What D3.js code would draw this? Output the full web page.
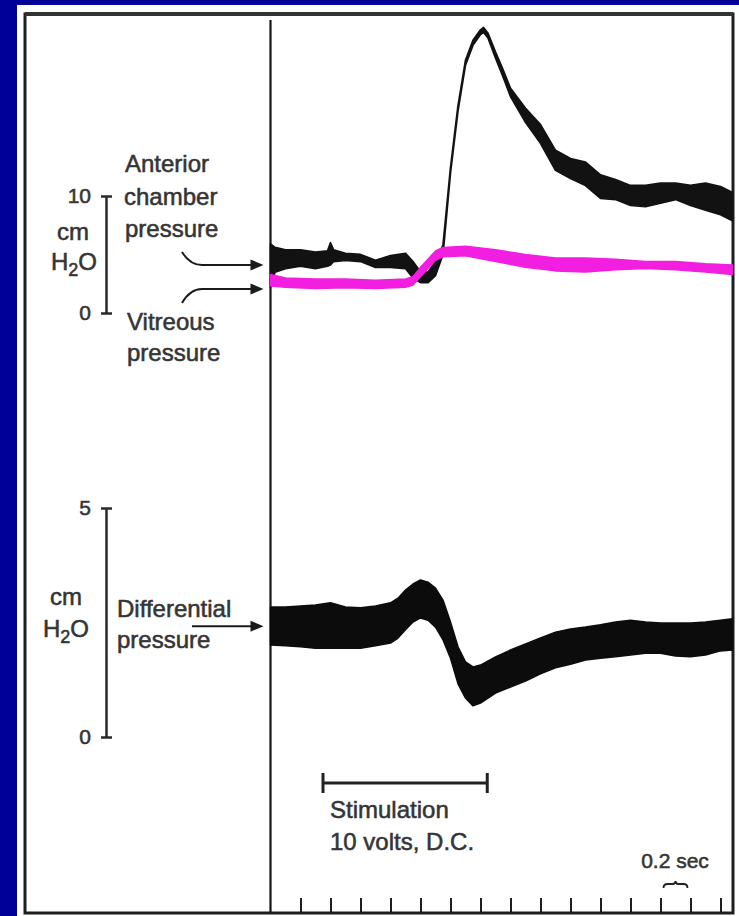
<!DOCTYPE html>
<html><head><meta charset="utf-8">
<script src="https://cdn.jsdelivr.net/npm/d3@7"></script>
<style>
html,body{margin:0;padding:0;background:#000099;overflow:hidden;}
svg{display:block;}
text{font-family:"Liberation Sans", Arial, Helvetica, sans-serif; fill:#353535; stroke:#353535; stroke-width:0.55px;}
</style></head><body>
<svg id="chart" width="739" height="916"></svg>
<script>
// ---- data (time in s, pressure in cm H2O) ----
const anteriorT  = [0.0,0.03,0.1,0.2,0.3,0.38,0.4,0.42,0.5,0.6,0.7,0.8,0.9,0.95,1.0,1.05,1.1,1.15,1.2,1.25,1.3,1.35,1.4,1.42,1.45,1.5,1.55,1.6,1.7,1.8,1.9,2.0,2.1,2.2,2.3,2.4,2.5,2.6,2.7,2.8,2.9,3.0,3.08];
const anteriorHi = [5.9,5.6,5.4,5.4,5.2,5.3,6.0,5.4,5.1,5.0,4.5,4.9,5.1,4.4,3.5,3.5,4.4,5.8,12.4,17.7,21.6,23.3,24.2,24.4,23.9,22.3,20.8,19.2,17.5,16.1,13.9,13.2,12.9,11.8,11.4,10.9,10.9,11.1,11.1,10.9,11.1,10.8,10.3];
const anteriorLo = [2.2,3.5,3.8,4.0,3.8,4.0,4.1,4.4,4.5,4.4,3.9,3.9,3.8,3.0,2.6,2.6,3.2,5.0,12.0,17.3,21.2,22.9,23.8,24.0,23.5,21.8,20.2,18.5,16.3,14.5,12.2,11.5,10.9,9.8,9.7,9.2,9.1,9.4,9.7,9.2,8.8,8.4,7.9];

const vitreousT  = [0.0,0.1,0.3,0.5,0.7,0.9,0.95,1.0,1.05,1.1,1.15,1.3,1.5,1.7,1.9,2.1,2.3,2.5,2.7,2.9,3.08];
const vitreousHi = [3.3,3.0,2.9,2.9,2.8,2.9,3.1,3.9,4.6,5.3,5.6,5.7,5.4,5.0,4.7,4.7,4.6,4.4,4.4,4.2,4.1];
const vitreousLo = [2.3,2.2,2.1,2.15,2.1,2.2,2.4,3.1,3.8,4.5,4.8,4.9,4.4,3.9,3.6,3.5,3.7,3.8,3.7,3.5,3.3];

const diffT  = [0.0,0.1,0.2,0.3,0.4,0.5,0.6,0.7,0.8,0.85,0.9,0.95,1.0,1.05,1.1,1.15,1.2,1.25,1.3,1.35,1.4,1.5,1.6,1.7,1.8,1.9,2.0,2.1,2.2,2.3,2.4,2.5,2.6,2.7,2.8,2.9,3.0,3.08];
const diffHi = [2.84,2.84,2.86,2.88,2.93,2.84,2.82,2.86,2.93,3.03,3.21,3.34,3.43,3.38,3.25,2.99,2.51,1.97,1.64,1.53,1.57,1.75,1.90,2.03,2.16,2.29,2.36,2.40,2.45,2.51,2.55,2.51,2.49,2.49,2.49,2.51,2.55,2.58];
const diffLo = [2.01,1.99,1.97,1.94,1.94,1.94,1.94,1.99,2.05,2.16,2.34,2.51,2.60,2.55,2.40,2.12,1.72,1.16,0.85,0.68,0.74,0.96,1.09,1.22,1.38,1.51,1.59,1.68,1.72,1.75,1.79,1.83,1.83,1.77,1.75,1.79,1.88,1.90];

const upperTicks = [0, 10];
const lowerTicks = [0, 5];
const timeTicks = d3.range(1, 16).map(k => +(k * 0.2).toFixed(1));
const stimulation = [0.35, 1.445];
const scaleInterval = [2.6, 2.8];

// ---- scales ----
const svg = d3.select("#chart");
const x = d3.scaleLinear().domain([0, 3.0833]).range([270.5, 733]);
const yUp = d3.scaleLinear().domain([0, 10]).range([313, 196]);
const yLow = d3.scaleLinear().domain([0, 5]).range([737, 508]);

// panel
svg.append("rect").attr("x", 17).attr("y", 5).attr("width", 722).attr("height", 911).attr("fill", "#fff");
// frame
svg.append("rect").attr("x", 25).attr("y", 14).attr("width", 708).attr("height", 899)
  .attr("fill", "none").attr("stroke", "#1e1e1e").attr("stroke-width", 3);
svg.append("line").attr("x1", 25).attr("x2", 733).attr("y1", 14).attr("y2", 14).attr("stroke", "#333").attr("stroke-width", 4);

// time axis ticks (bottom, pointing up)
svg.append("g").attr("transform", "translate(0,912)")
  .call(d3.axisTop(x).tickValues(timeTicks).tickSize(14).tickFormat(""))
  .call(g => g.select(".domain").remove())
  .call(g => g.selectAll(".tick line").attr("stroke", "#1e1e1e").attr("stroke-width", 2));

// zero-time line
svg.append("line").attr("x1", x(0)).attr("x2", x(0)).attr("y1", 20).attr("y2", 912)
  .attr("stroke", "#151515").attr("stroke-width", 2.2);

// traces
function band(T, hi, lo, y) {
  const pts = T.map((t, i) => ({t, hi: hi[i], lo: lo[i]}));
  return d3.area().x(d => x(d.t)).y0(d => y(d.lo)).y1(d => y(d.hi)).curve(d3.curveLinear)(pts);
}
svg.append("path").attr("d", band(anteriorT, anteriorHi, anteriorLo, yUp))
  .attr("fill", "#121212").attr("stroke", "#121212").attr("stroke-width", 1.8).attr("stroke-linejoin", "round");
svg.append("path").attr("d", band(vitreousT, vitreousHi, vitreousLo, yUp))
  .attr("fill", "#f21ee0").attr("stroke", "#f21ee0").attr("stroke-width", 1.5).attr("stroke-linejoin", "round");
svg.append("path").attr("d", band(diffT, diffHi, diffLo, yLow))
  .attr("fill", "#0c0c0c").attr("stroke", "#0c0c0c").attr("stroke-width", 1.5).attr("stroke-linejoin", "round");

// scale bars
function scaleBar(scale, ticks, xPos) {
  const g = svg.append("g").attr("transform", `translate(${xPos},0)`)
    .call(d3.axisLeft(scale).tickValues(ticks).tickSize(5).tickSizeOuter(0).tickPadding(10).tickFormat(d3.format("d")));
  g.select(".domain").attr("stroke", "#2a2a2a").attr("stroke-width", 2.5);
  g.selectAll(".tick line").attr("x1", -5).attr("x2", 6).attr("stroke", "#2a2a2a").attr("stroke-width", 2.5);
  g.selectAll(".tick text").attr("font-size", 21).attr("fill", "#353535")
    .style("font-family", '"Liberation Sans", Arial, sans-serif');
  return g;
}
scaleBar(yUp, upperTicks, 106);
scaleBar(yLow, lowerTicks, 106);

// text helpers
function label(txt, xp, yp, size = 24, anchor = "start") {
  return svg.append("text").attr("x", xp).attr("y", yp).attr("font-size", size).attr("text-anchor", anchor).text(txt);
}
function h2o(xp, yp) {
  const t = svg.append("text").attr("x", xp).attr("y", yp).attr("font-size", 24).attr("text-anchor", "middle");
  t.append("tspan").text("H");
  t.append("tspan").attr("dy", 6).attr("font-size", 18).text("2");
  t.append("tspan").attr("dy", -6).text("O");
}
label("Anterior", 125, 172);
label("chamber", 124, 205);
label("pressure", 125, 237);
label("cm", 73, 240, 24, "middle");
h2o(74, 270);
label("Vitreous", 127, 330);
label("pressure", 127, 361);

label("cm", 66, 605, 24, "middle");
h2o(66, 637);
label("Differential", 117, 617);
label("pressure", 117, 648);

label("Stimulation", 330, 818);
label("10 volts, D.C.", 330, 850);
label("0.2 sec", 675, 868, 21, "middle");

// arrows
function arrow(pathD, tipX, tipY) {
  svg.append("path").attr("d", pathD).attr("fill", "none").attr("stroke", "#1a1a1a").attr("stroke-width", 2);
  svg.append("path").attr("d", `M${tipX},${tipY} L${tipX - 13},${tipY - 5.5} L${tipX - 13},${tipY + 5.5} Z`).attr("fill", "#1a1a1a");
}
const tipX = x(0) - 7;
const yA = yUp(4.1), yV = yUp(2.05), yD = yLow(2.42);
arrow(`M182,${yA - 13} Q190,${yA} 202,${yA} L${tipX - 10},${yA}`, tipX, yA);
arrow(`M182,${yV + 14} Q190,${yV} 202,${yV} L${tipX - 10},${yV}`, tipX, yV);
arrow(`M192,${yD} L${tipX - 10},${yD}`, tipX, yD);

// stimulation bar
const sy = 783;
svg.append("line").attr("x1", x(stimulation[0])).attr("x2", x(stimulation[1])).attr("y1", sy).attr("y2", sy)
  .attr("stroke", "#222").attr("stroke-width", 3);
stimulation.forEach(t => svg.append("line").attr("x1", x(t)).attr("x2", x(t)).attr("y1", sy - 10).attr("y2", sy + 10)
  .attr("stroke", "#222").attr("stroke-width", 3));

// 0.2 sec brace
const b0 = x(scaleInterval[0]) + 3, b1 = x(scaleInterval[1]) - 3, bm = (b0 + b1) / 2, by = 888;
svg.append("path")
  .attr("d", `M${b0},${by} Q${b0},${by - 4} ${b0 + 4},${by - 4} L${bm - 3},${by - 4} Q${bm},${by - 4} ${bm},${by - 7} Q${bm},${by - 4} ${bm + 3},${by - 4} L${b1 - 4},${by - 4} Q${b1},${by - 4} ${b1},${by}`)
  .attr("fill", "none").attr("stroke", "#222").attr("stroke-width", 1.8);
</script>
</body></html>
